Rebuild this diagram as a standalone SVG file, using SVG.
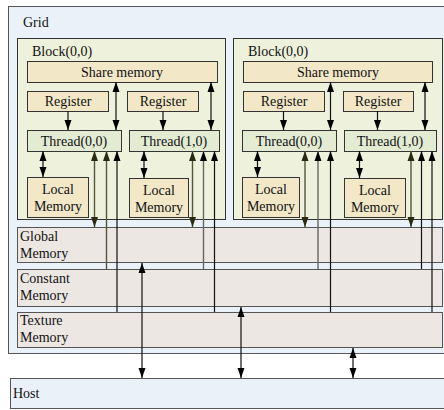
<svg xmlns="http://www.w3.org/2000/svg" width="444" height="410" viewBox="0 0 444 410" font-family="'Liberation Serif', 'Times New Roman', serif">
<style>
text{font-family:'Liberation Serif','Times New Roman',serif;font-size:14px;fill:#111}
.c{text-anchor:middle}
.grid{fill:#ebf1f9;stroke:#555;stroke-width:1}
.block{fill:#eef2dc;stroke:#333;stroke-width:1}
.beige{fill:#f2e8c8;stroke:#333;stroke-width:1}
.thread{fill:#e3ebd3;stroke:#333;stroke-width:1}
.mem{fill:#ede7e3;stroke:#555;stroke-width:1}
.a{stroke:#111;stroke-width:1.2;fill:none}
.o{stroke:#55553a;stroke-width:1.4;fill:none}
.g{stroke:#666;stroke-width:1.4;fill:none}
</style>
<defs>
<marker id="ah" markerUnits="userSpaceOnUse" markerWidth="10" markerHeight="8" viewBox="0 0 10 8" refX="10" refY="4" orient="auto-start-reverse"><path d="M0,0.5 L10,4 L0,7.5 z" fill="#000"/></marker>
<marker id="oh" markerUnits="userSpaceOnUse" markerWidth="10" markerHeight="8" viewBox="0 0 10 8" refX="10" refY="4" orient="auto-start-reverse"><path d="M0,0.5 L10,4 L0,7.5 z" fill="#2a2a10"/></marker>
</defs>
<g id="grid"><rect class="grid" x="8.5" y="6.5" width="440" height="347"/><text x="23" y="27">Grid</text></g>
<g id="block1"><rect class="block" x="17.5" y="38.5" width="208" height="181"/><text x="32" y="56">Block(0,0)</text></g>
<g id="block2"><rect class="block" x="233.5" y="38.5" width="209" height="181"/><text x="248" y="56">Block(0,0)</text></g>
<g id="share1"><rect class="beige" x="27.5" y="61.5" width="190" height="21"/><text class="c" x="122" y="77">Share memory</text></g>
<g id="share2"><rect class="beige" x="243.5" y="61.5" width="189" height="21"/><text class="c" x="338" y="77">Share memory</text></g>
<g id="reg1"><rect class="beige" x="27.5" y="91.5" width="81" height="20"/><text class="c" x="68" y="106">Register</text></g>
<g id="reg2"><rect class="beige" x="127.5" y="91.5" width="71" height="20"/><text class="c" x="163" y="106">Register</text></g>
<g id="reg3"><rect class="beige" x="243.5" y="91.5" width="81" height="20"/><text class="c" x="284" y="106">Register</text></g>
<g id="reg4"><rect class="beige" x="343.5" y="91.5" width="70" height="20"/><text class="c" x="378" y="106">Register</text></g>
<g id="thread1"><rect class="thread" x="27.5" y="130.5" width="94" height="21"/><text class="c" x="74" y="146">Thread(0,0)</text></g>
<g id="thread2"><rect class="thread" x="129.5" y="130.5" width="90" height="21"/><text class="c" x="174" y="146">Thread(1,0)</text></g>
<g id="thread3"><rect class="thread" x="242.5" y="130.5" width="94" height="21"/><text class="c" x="289" y="146">Thread(0,0)</text></g>
<g id="thread4"><rect class="thread" x="344.5" y="130.5" width="92" height="21"/><text class="c" x="390" y="146">Thread(1,0)</text></g>
<g id="local1"><rect class="beige" x="27.5" y="177.5" width="61" height="40"/><text class="c" x="58" y="194">Local</text><text class="c" x="58" y="211">Memory</text></g>
<g id="local2"><rect class="beige" x="129.5" y="178.5" width="59" height="39"/><text class="c" x="159" y="195">Local</text><text class="c" x="159" y="212">Memory</text></g>
<g id="local3"><rect class="beige" x="242.5" y="177.5" width="57" height="40"/><text class="c" x="271" y="194">Local</text><text class="c" x="271" y="211">Memory</text></g>
<g id="local4"><rect class="beige" x="344.5" y="178.5" width="61" height="39"/><text class="c" x="375" y="195">Local</text><text class="c" x="375" y="212">Memory</text></g>
<g id="global"><rect class="mem" x="17.5" y="227.5" width="425" height="35"/><text x="20" y="241">Global</text><text x="20" y="258">Memory</text></g>
<g id="constant"><rect class="mem" x="17.5" y="269.5" width="425" height="37"/><text x="20" y="283">Constant</text><text x="20" y="300">Memory</text></g>
<g id="texture"><rect class="mem" x="17.5" y="312.5" width="425" height="35"/><text x="20" y="325">Texture</text><text x="20" y="342">Memory</text></g>
<g id="host"><rect class="grid" x="10.5" y="378.5" width="440" height="30"/><text x="13" y="398">Host</text></g>
<g id="connectors">
<line class="a" x1="68" y1="111" x2="68" y2="130" marker-end="url(#ah)"/>
<line class="a" x1="163" y1="111" x2="163" y2="130" marker-end="url(#ah)"/>
<line class="a" x1="283.5" y1="111" x2="283.5" y2="130" marker-end="url(#ah)"/>
<line class="a" x1="377.5" y1="111" x2="377.5" y2="130" marker-end="url(#ah)"/>
<line class="a" x1="116" y1="82" x2="116" y2="130" marker-start="url(#ah)" marker-end="url(#ah)"/>
<line class="a" x1="211" y1="82" x2="211" y2="130" marker-start="url(#ah)" marker-end="url(#ah)"/>
<line class="a" x1="330.5" y1="82" x2="330.5" y2="130" marker-start="url(#ah)" marker-end="url(#ah)"/>
<line class="a" x1="425" y1="82" x2="425" y2="130" marker-start="url(#ah)" marker-end="url(#ah)"/>
<line class="a" x1="43" y1="151" x2="43" y2="177" marker-start="url(#ah)" marker-end="url(#ah)"/>
<line class="a" x1="144" y1="151" x2="144" y2="178" marker-start="url(#ah)" marker-end="url(#ah)"/>
<line class="a" x1="257.5" y1="151" x2="257.5" y2="177" marker-start="url(#ah)" marker-end="url(#ah)"/>
<line class="a" x1="359.5" y1="151" x2="359.5" y2="178" marker-start="url(#ah)" marker-end="url(#ah)"/>
<line class="o" x1="94.5" y1="151" x2="94.5" y2="227" marker-start="url(#oh)" marker-end="url(#oh)"/>
<line class="o" x1="106.5" y1="151" x2="106.5" y2="269" marker-start="url(#oh)"/>
<line class="a" x1="117" y1="151" x2="117" y2="312" marker-start="url(#ah)"/>
<line class="o" x1="192.5" y1="151" x2="192.5" y2="227" marker-start="url(#oh)" marker-end="url(#oh)"/>
<line class="g" x1="203.5" y1="151" x2="203.5" y2="269" marker-start="url(#ah)"/>
<line class="a" x1="214.5" y1="151" x2="214.5" y2="312" marker-start="url(#ah)"/>
<line class="o" x1="305" y1="151" x2="305" y2="227" marker-start="url(#oh)" marker-end="url(#oh)"/>
<line class="g" x1="318" y1="151" x2="318" y2="269" marker-start="url(#ah)"/>
<line class="a" x1="330.5" y1="151" x2="330.5" y2="312" marker-start="url(#ah)"/>
<line class="o" x1="411" y1="151" x2="411" y2="227" marker-start="url(#oh)" marker-end="url(#oh)"/>
<line class="a" x1="421.5" y1="151" x2="421.5" y2="269" marker-start="url(#ah)"/>
<line class="a" x1="432" y1="151" x2="432" y2="312" marker-start="url(#ah)"/>
<line class="a" x1="142" y1="263" x2="142" y2="378" marker-start="url(#ah)" marker-end="url(#ah)"/>
<line class="a" x1="241" y1="307" x2="241" y2="378" marker-start="url(#ah)" marker-end="url(#ah)"/>
<line class="a" x1="353" y1="348" x2="353" y2="378" marker-start="url(#ah)" marker-end="url(#ah)"/>
</g>
</svg>
